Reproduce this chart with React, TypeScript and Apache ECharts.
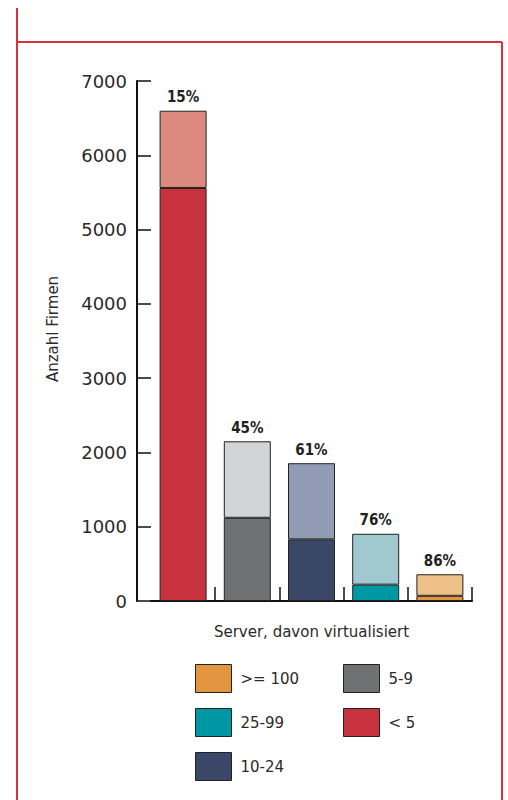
import React, { useEffect, useRef } from "react";
import * as echarts from "echarts";

const categories = ["< 5", "5-9", "10-24", "25-99", ">= 100"];
const totals = [6600, 2150, 1855, 905, 360];
const nonVirtual = [5560, 1120, 830, 220, 70];
const percentLabels = ["15%", "45%", "61%", "76%", "86%"];
const darkColors = ["#c8323f", "#707173", "#3a4766", "#0097a5", "#e3963f"];
const lightColors = ["#dc8a7e", "#d3d4d6", "#919bb3", "#a0c9cf", "#eec08a"];
const yTicks = [0, 7000, 1000];

const FONT = "'DejaVu Sans', sans-serif";

export default function App() {
  const ref = useRef<HTMLDivElement>(null);
  useEffect(() => {
    if (!ref.current) return;
    const chart = echarts.init(ref.current, undefined, { renderer: "svg" });
    const darkSeries = categories.map((name, i) => ({
      name,
      type: "bar",
      stack: "total",
      barWidth: 47,
      itemStyle: { color: darkColors[i], borderColor: "#222", borderWidth: 1 },
      data: categories.map((_, j) => (j === i ? nonVirtual[j] : null)),
    }));
    const lightSeries = {
      name: "virtualisiert",
      type: "bar",
      stack: "total",
      barWidth: 47,
      data: totals.map((t, j) => ({
        value: t - nonVirtual[j],
        itemStyle: { color: lightColors[j], borderColor: "#222", borderWidth: 1 },
      })),
      label: {
        show: true,
        position: "top",
        distance: 6,
        formatter: (p: any) => percentLabels[p.dataIndex],
        fontFamily: "'DejaVu Sans Condensed', " + FONT,
        fontWeight: "bold",
        fontSize: 15,
        color: "#222",
      },
    };
    const legendCommon = {
      orient: "vertical",
      icon: "rect",
      padding: 0,
      itemWidth: 36,
      itemHeight: 28,
      itemGap: 15,
      top: 664,
      itemStyle: { borderColor: "#222", borderWidth: 1 },
      textStyle: { fontFamily: FONT, fontSize: 15, color: "#2a2a2a", padding: [0, 0, 0, 4] },
      selectedMode: false,
    };
    chart.setOption({
      animation: false,
      backgroundColor: "#fff",
      grid: { left: 151, right: 36, top: 81, bottom: 199, containLabel: false },
      legend: [
        { ...legendCommon, left: 195, data: [">= 100", "25-99", "10-24"] },
        { ...legendCommon, left: 343, data: ["5-9", "< 5"] },
      ],
      xAxis: {
        type: "category",
        data: categories,
        name: "Server, davon virtualisiert",
        nameLocation: "middle",
        nameGap: 23,
        nameTextStyle: { fontFamily: FONT, fontSize: 15, color: "#2a2a2a" },
        axisLine: { lineStyle: { color: "#111", width: 2 } },
        axisTick: {
          show: true,
          inside: true,
          length: 14,
          interval: (i: number) => i !== 0,
          lineStyle: { color: "#111", width: 1.5 },
        },
        axisLabel: { show: false },
      },
      yAxis: {
        type: "value",
        min: yTicks[0],
        max: yTicks[1],
        interval: yTicks[2],
        offset: 14,
        name: "Anzahl Firmen",
        nameLocation: "middle",
        nameGap: 77,
        nameTextStyle: { fontFamily: FONT, fontSize: 15, color: "#2a2a2a", padding: [0, 0, 0, 24] },
        axisLine: { show: true, lineStyle: { color: "#111", width: 2 } },
        axisTick: { show: true, inside: true, length: 14, lineStyle: { color: "#111", width: 1.5 } },
        axisLabel: {
          fontFamily: FONT,
          fontSize: 18,
          color: "#2a2a2a",
          margin: 10,
          formatter: (v: number) => String(v),
        },
        splitLine: { show: false },
      },
      graphic: [
        { type: "line", shape: { x1: 17, y1: 8, x2: 17, y2: 800 }, style: { stroke: "#d9303e", lineWidth: 2 } },
        { type: "line", shape: { x1: 17, y1: 42, x2: 502, y2: 42 }, style: { stroke: "#d9303e", lineWidth: 2 } },
        { type: "line", shape: { x1: 502, y1: 42, x2: 502, y2: 800 }, style: { stroke: "#d9303e", lineWidth: 2 } },
      ],
      series: [...darkSeries, lightSeries],
    });
    return () => chart.dispose();
  }, []);
  return (
    <div
      ref={ref}
      style={{ position: "fixed", left: 0, top: 0, width: 508, height: 800 }}
    />
  );
}
